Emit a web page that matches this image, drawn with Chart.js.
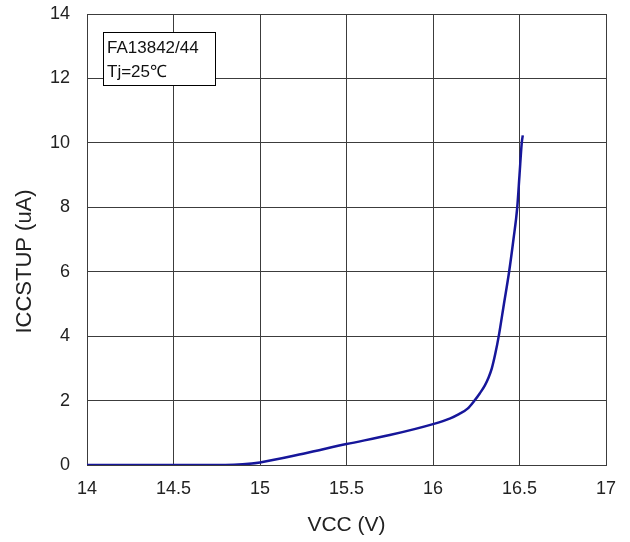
<!DOCTYPE html>
<html>
<head>
<meta charset="utf-8">
<script src="https://cdn.jsdelivr.net/npm/chart.js@4.4.1/dist/chart.umd.min.js"></script>
<style>
  html, body { margin: 0; padding: 0; background: #ffffff; }
  #wrap { width: 630px; height: 542px; position: relative; }
</style>
</head>
<body>
<div id="wrap"><canvas id="c" width="630" height="542"></canvas></div>
<script>
// Start-up supply current versus supply voltage
const vccVolts = [14.0, 14.5, 14.8, 14.9, 15.0, 15.25, 15.5, 15.75, 16.0, 16.1, 16.15, 16.2, 16.24, 16.27, 16.3, 16.32, 16.34, 16.36, 16.38, 16.41, 16.44, 16.465, 16.487, 16.5, 16.513, 16.519];
const iccMicroAmps = [0, 0, 0, 0.02, 0.08, 0.35, 0.65, 0.93, 1.27, 1.45, 1.58, 1.75, 2.0, 2.22, 2.47, 2.7, 3.0, 3.45, 4.0, 5.0, 6.0, 7.0, 8.0, 9.0, 10.0, 10.23];
const xTicks = [14, 14.5, 15, 15.5, 16, 16.5, 17];
const yTicks = [0, 2, 4, 6, 8, 10, 12, 14];
const noteLines = ['FA13842/44', 'Tj=25\u2103'];

const gridColor = '#3c3c3c';
const fontFamily = '"Liberation Sans", Arial, sans-serif';

const points = vccVolts.map((v, i) => ({ x: v, y: iccMicroAmps[i] }));

// Boxed condition note in the upper-left corner of the plot
const notePlugin = {
  id: 'noteBox',
  afterDraw(chart) {
    const { ctx, chartArea } = chart;
    const left = chartArea.left + 16, top = chartArea.top + 18;
    const w = 112, h = 53;
    ctx.save();
    ctx.fillStyle = '#ffffff';
    ctx.fillRect(left, top, w, h);
    ctx.strokeStyle = '#000000';
    ctx.lineWidth = 1;
    ctx.strokeRect(left + 0.5, top + 0.5, w, h);
    ctx.fillStyle = '#111111';
    ctx.font = '17px ' + fontFamily;
    ctx.textBaseline = 'middle';
    ctx.fillText(noteLines[0], left + 4, top + 16);
    ctx.fillText(noteLines[1], left + 4, top + 40);
    ctx.restore();
  }
};

new Chart(document.getElementById('c'), {
  type: 'scatter',
  data: {
    datasets: [{
      data: points,
      showLine: true,
      borderColor: '#16169a',
      borderWidth: 2.5,
      pointRadius: 0,
      cubicInterpolationMode: 'monotone',
      fill: false
    }]
  },
  options: {
    responsive: false,
    animation: false,
    devicePixelRatio: 1,
    layout: { padding: { top: 14, right: 24, left: 0, bottom: 0 } },
    plugins: { legend: { display: false }, tooltip: { enabled: false } },
    scales: {
      x: {
        type: 'linear',
        min: 14, max: 17,
        afterBuildTicks(scale) { scale.ticks = xTicks.map(v => ({ value: v })); },
        afterFit(scale) { scale.height = 77; scale.paddingLeft = 0; scale.paddingRight = 0; },
        grid: { color: gridColor, lineWidth: 1, drawTicks: false },
        border: { color: gridColor, width: 1 },
        ticks: { color: '#222222', font: { family: fontFamily, size: 18 }, padding: 13, maxRotation: 0,
                 callback: v => String(v) },
        title: { display: true, text: 'VCC (V)', color: '#222222', font: { family: fontFamily, size: 21 }, padding: { top: 0, bottom: 4 } }
      },
      y: {
        type: 'linear',
        min: 0, max: 14,
        afterBuildTicks(scale) { scale.ticks = yTicks.map(v => ({ value: v })); },
        afterFit(scale) { scale.width = 87; scale.paddingTop = 0; scale.paddingBottom = 0; },
        grid: { color: gridColor, lineWidth: 1, drawTicks: false },
        border: { color: gridColor, width: 1 },
        ticks: { color: '#222222', font: { family: fontFamily, size: 18 }, padding: 17,
                 callback: v => String(v) },
        title: { display: true, text: 'ICCSTUP (uA)\u2002\u2002\u2002\u2002', color: '#222222', font: { family: fontFamily, size: 22 }, padding: { top: 12, bottom: 0 } }
      }
    }
  },
  plugins: [notePlugin]
});
</script>
</body>
</html>
